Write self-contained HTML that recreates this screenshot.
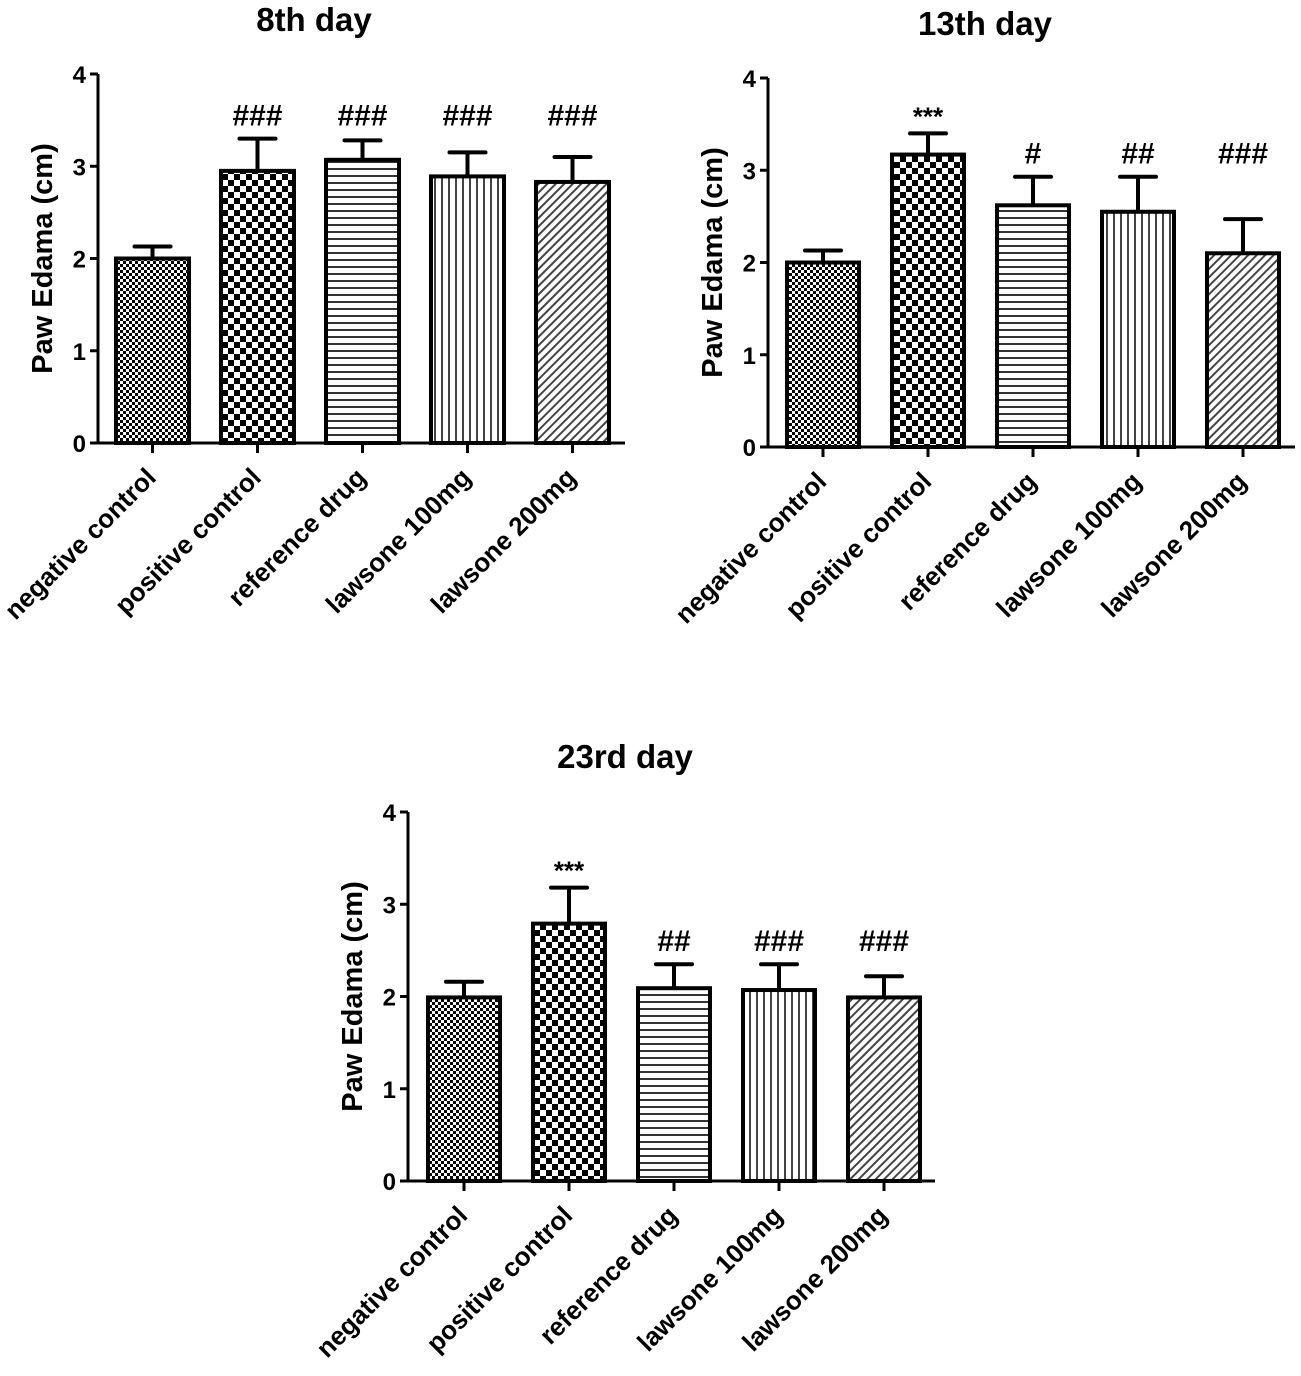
<!DOCTYPE html>
<html><head><meta charset="utf-8"><style>
html,body{margin:0;padding:0;background:#fff;}
svg{display:block;font-family:"Liberation Sans",Arial,sans-serif;font-weight:bold;}
</style></head><body>
<svg id="fig" width="1301" height="1376" viewBox="0 0 1301 1376" xmlns="http://www.w3.org/2000/svg">
<defs>
<pattern id="p0" width="6" height="6" patternUnits="userSpaceOnUse"><rect width="6" height="6" fill="#fff"/><rect width="3" height="3" fill="#000"/><rect x="3" y="3" width="3" height="3" fill="#000"/></pattern>
<pattern id="p1" width="12" height="12" patternUnits="userSpaceOnUse"><rect width="12" height="12" fill="#fff"/><rect width="6" height="6" fill="#000"/><rect x="6" y="6" width="6" height="6" fill="#000"/></pattern>
<pattern id="p2" width="7" height="7" patternUnits="userSpaceOnUse"><rect width="7" height="7" fill="#fff"/><rect y="0" width="7" height="2" fill="#333"/></pattern>
<pattern id="p3" width="7" height="7" patternUnits="userSpaceOnUse"><rect width="7" height="7" fill="#fff"/><rect x="0" width="2" height="7" fill="#444"/></pattern>
<pattern id="p4" width="6" height="6" patternUnits="userSpaceOnUse" patternTransform="rotate(45)"><rect width="6" height="6" fill="#fff"/><rect width="2" height="6" fill="#444"/></pattern>
</defs>
</svg>
<script>
const categories = ["negative control","positive control","reference drug","lawsone 100mg","lawsone 200mg"];
const titles = ["8th day","13th day","23rd day"];
const yTicks = [0,1,2,3,4];
const means8 = [2.0, 2.95, 3.07, 2.89, 2.83];
const errTop8 = [2.13, 3.3, 3.28, 3.15, 3.1];
const sig8 = ["", "###", "###", "###", "###"];
const means13 = [2.0, 3.17, 2.62, 2.55, 2.1];
const errTop13 = [2.13, 3.4, 2.93, 2.93, 2.47];
const sig13 = ["", "***", "#", "##", "###"];
const means23 = [1.99, 2.79, 2.09, 2.07, 1.99];
const errTop23 = [2.16, 3.18, 2.35, 2.35, 2.22];
const sig23 = ["", "***", "##", "###", "###"];

const NS = "http://www.w3.org/2000/svg";
const svg = document.getElementById("fig");
function mk(tag, attrs, parent, text){
  const e = document.createElementNS(NS, tag);
  for (const k in attrs) e.setAttribute(k, attrs[k]);
  if (text !== undefined) e.textContent = text;
  (parent||svg).appendChild(e);
  return e;
}
const panels = [
  {ax:98, y0:443, y4:74, first:116, step:105, w:73, xEnd:625, title:titles[0], tx:314, ty:31, m:means8, e:errTop8, s:sig8, id:"day8"},
  {ax:768, y0:447, y4:78, first:787, step:105, w:72, xEnd:1295, title:titles[1], tx:985, ty:35, m:means13, e:errTop13, s:sig13, id:"day13"},
  {ax:408, y0:1181, y4:812, first:428, step:105, w:72, xEnd:935, title:titles[2], tx:625, ty:768, m:means23, e:errTop23, s:sig23, id:"day23"}
];
panels.forEach(p => {
  const g = mk("g", {});
  
  
  const yS = v => p.y0 - (p.y0 - p.y4) * v / 4;
  let hashMax = 0;
  p.s.forEach((s,i) => { if (s.indexOf("#") >= 0) hashMax = Math.max(hashMax, p.e[i]); });
  const t = mk("text", {x:p.tx, y:p.ty, "text-anchor":"middle", "font-size":"33"}, g, p.title);
  
  
  const yt = mk("text", {transform:`translate(${p.ax-46},${(p.y0+p.y4)/2}) rotate(-90)`, "text-anchor":"middle", "font-size":"29"}, g, "Paw Edama (cm)");
  
  
  categories.forEach((c,i) => {
    const x = p.first + i*p.step, cx = x + p.w/2;
    const top = yS(p.m[i]), et = yS(p.e[i]);
    const el = mk("line", {x1:cx, x2:cx, y1:et, y2:top, stroke:"#000", "stroke-width":"4"}, g);
    
    
    const cap = mk("line", {x1:cx-18, x2:cx+18, y1:et, y2:et, stroke:"#000", "stroke-width":"4", "stroke-linecap":"round"}, g);
    
    
    const r = mk("rect", {x:x, y:top, width:p.w, height:p.y0-top, fill:`url(#p${i})`, stroke:"#000", "stroke-width":"4"}, g);
    
    
    if (p.s[i]) {
      const isStar = p.s[i] === "***";
      const by = isStar ? et - 8 : yS(hashMax) - 13;
      const st = mk("text", {x:cx, y:by, "text-anchor":"middle", "font-size": isStar ? "26" : "30"}, g, p.s[i]);
      
      
    }
    const tk = mk("line", {x1:cx, x2:cx, y1:p.y0, y2:p.y0+10, stroke:"#000", "stroke-width":"3"}, g);
    
    
    const lb = mk("text", {transform:`translate(${cx+5},${p.y0+36}) rotate(-45)`, "text-anchor":"end", "font-size":"26"}, g, c);
    
    
  });
  const ya = mk("line", {x1:p.ax, x2:p.ax, y1:p.y4, y2:p.y0+1, stroke:"#000", "stroke-width":"3"}, g);
  
  
  const xa = mk("line", {x1:p.ax-8, x2:p.xEnd, y1:p.y0, y2:p.y0, stroke:"#000", "stroke-width":"3"}, g);
  
  
  yTicks.forEach(v => {
    const y = yS(v);
    const tl = mk("line", {x1:p.ax-8, x2:p.ax, y1:y, y2:y, stroke:"#000", "stroke-width":"3"}, g);
    
    
    const tt = mk("text", {x:p.ax-12, y:y+9, "text-anchor":"end", "font-size":"24"}, g, String(v));
    
    
  });
});
</script>
</body></html>
